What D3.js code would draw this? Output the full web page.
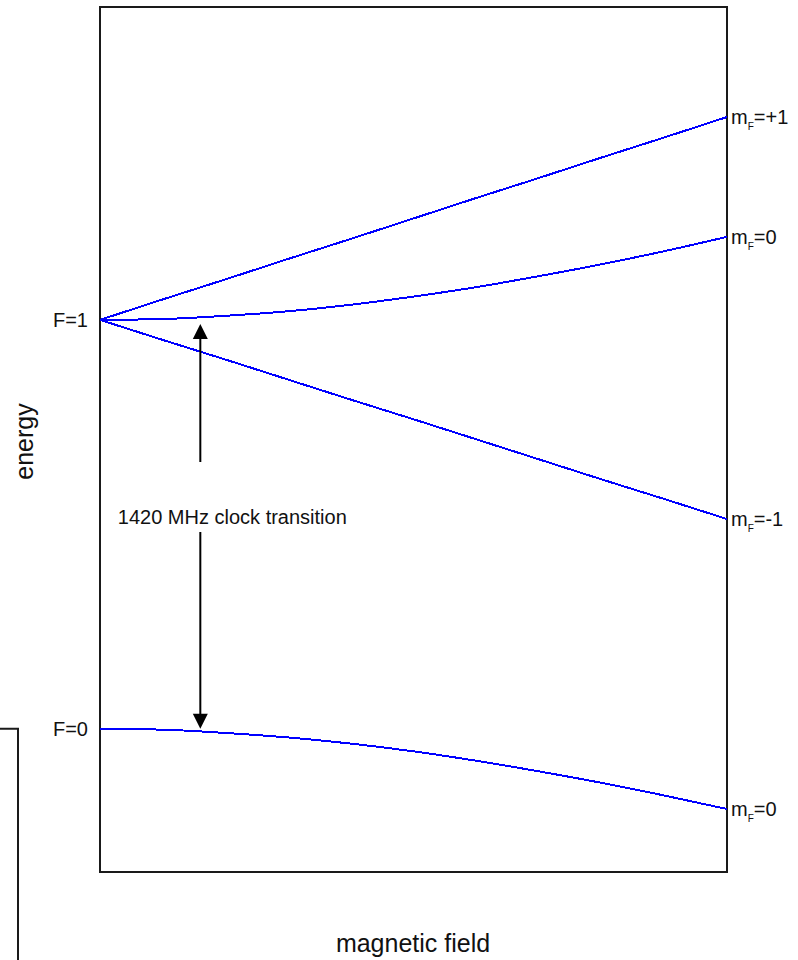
<!DOCTYPE html>
<html>
<head>
<meta charset="utf-8">
<script src="https://cdn.jsdelivr.net/npm/d3@7"></script>
<style>
  body { margin: 0; background: #fff; }
  text { font-family: 'Liberation Sans', Arial, sans-serif; fill: #111; }
</style>
</head>
<body>
<div id="app"></div>
<script>
'use strict'

// magnetic field (fraction of the plotted range)
const field = [0, 0.1, 0.2, 0.3, 0.4, 0.5, 0.6, 0.7, 0.8, 0.9, 1.0]

// energies in units of the hyperfine splitting (F=0 at zero field = 0)
const mPlus1  = [1, 1.050, 1.099, 1.149, 1.198, 1.248, 1.298, 1.347, 1.397, 1.446, 1.496]
const m0Upper = [1, 1.002, 1.010, 1.021, 1.037, 1.057, 1.080, 1.107, 1.136, 1.168, 1.203]
const mMinus1 = [1, 0.951, 0.903, 0.854, 0.805, 0.757, 0.708, 0.659, 0.610, 0.562, 0.513]
const m0Lower = [0, -0.002, -0.010, -0.021, -0.036, -0.055, -0.078, -0.104, -0.132, -0.163, -0.196]

const levels = [
	{ label: '+1', values: mPlus1 },
	{ label: '0', values: m0Upper },
	{ label: '-1', values: mMinus1 },
	{ label: '0', values: m0Lower }
]
const zeroLabels = [{ text: 'F=1', value: 1 }, { text: 'F=0', value: 0 }]
const clockField = 0.16
const clockText = '1420 MHz clock transition'

const main = () => {
	const W = 798, H = 960
	const margin = { top: 7, right: 71, bottom: 88, left: 100 }
	const width = W - margin.left - margin.right
	const height = H - margin.top - margin.bottom

	const svg = d3.select('#app').append('svg')
		.attr('width', W).attr('height', H)

	const g = svg.append('g').attr('transform', `translate(${margin.left}, ${margin.top})`)

	const x = d3.scaleLinear().domain([0, 1]).range([0, width])
	const y = d3.scaleLinear().domain([-0.35, 1.765]).range([height, 0])

	// frame
	g.append('rect')
		.attr('x', 0).attr('y', 0)
		.attr('width', width).attr('height', height)
		.attr('fill', 'none').attr('stroke', '#1a1a1a').attr('stroke-width', 2)

	// stray bracket at the left edge
	svg.append('path')
		.attr('d', `M0,${margin.top + y(0)} H18 V${H}`)
		.attr('fill', 'none').attr('stroke', '#1a1a1a').attr('stroke-width', 2)

	// energy levels
	const line = d3.line()
		.x((d, i) => x(field[i]))
		.y(d => y(d))
		.curve(d3.curveMonotoneX)

	g.selectAll('.level')
		.data(levels)
		.enter().append('path')
		.attr('class', 'level')
		.attr('d', d => line(d.values))
		.attr('fill', 'none')
		.attr('stroke', '#0000ff')
		.attr('stroke-width', 2)
		.attr('shape-rendering', 'crispEdges')

	// level labels at the right
	const lab = g.selectAll('.mlabel')
		.data(levels)
		.enter().append('text')
		.attr('class', 'mlabel')
		.attr('x', width + 4)
		.attr('y', d => y(d.values[d.values.length - 1]) + 7)
		.style('font-size', '20px')
	lab.append('tspan').text('m')
	lab.append('tspan').attr('dy', 6).style('font-size', '10px').text('F')
	lab.append('tspan').attr('dy', -6).text(d => '=' + d.label)

	// F labels at the left
	g.selectAll('.flabel')
		.data(zeroLabels)
		.enter().append('text')
		.attr('x', -12)
		.attr('y', d => y(d.value) + 7)
		.attr('text-anchor', 'end')
		.style('font-size', '20px')
		.text(d => d.text)

	// clock transition arrow
	const ax = x(clockField)
	const yTop = y(m0Upper[1] + (m0Upper[2] - m0Upper[1]) * 0.6) + 7
	const yBot = y(0)
	const textY = 517
	const gapTop = 455, gapBot = 525
	g.append('line')
		.attr('x1', ax).attr('x2', ax).attr('y1', yTop + 14).attr('y2', gapTop)
		.attr('stroke', '#000').attr('stroke-width', 2)
	g.append('line')
		.attr('x1', ax).attr('x2', ax).attr('y1', gapBot).attr('y2', yBot - 14)
		.attr('stroke', '#000').attr('stroke-width', 2)
	g.append('path')
		.attr('d', `M${ax},${yTop} L${ax - 7.5},${yTop + 15} L${ax + 7.5},${yTop + 15} Z`)
		.attr('fill', '#000')
	g.append('path')
		.attr('d', `M${ax},${yBot} L${ax - 7.5},${yBot - 15} L${ax + 7.5},${yBot - 15} Z`)
		.attr('fill', '#000')
	g.append('text')
		.attr('x', ax + 32).attr('y', textY)
		.attr('text-anchor', 'middle')
		.style('font-size', '20px')
		.text(clockText)

	// axis titles
	svg.append('text')
		.attr('transform', `translate(33, ${margin.top + height / 2 + 2}) rotate(-90)`)
		.attr('text-anchor', 'middle')
		.style('font-size', '25px')
		.text('energy')
	svg.append('text')
		.attr('x', 413).attr('y', 952)
		.attr('text-anchor', 'middle')
		.style('font-size', '25px')
		.text('magnetic field')
}

main()
</script>
</body>
</html>
